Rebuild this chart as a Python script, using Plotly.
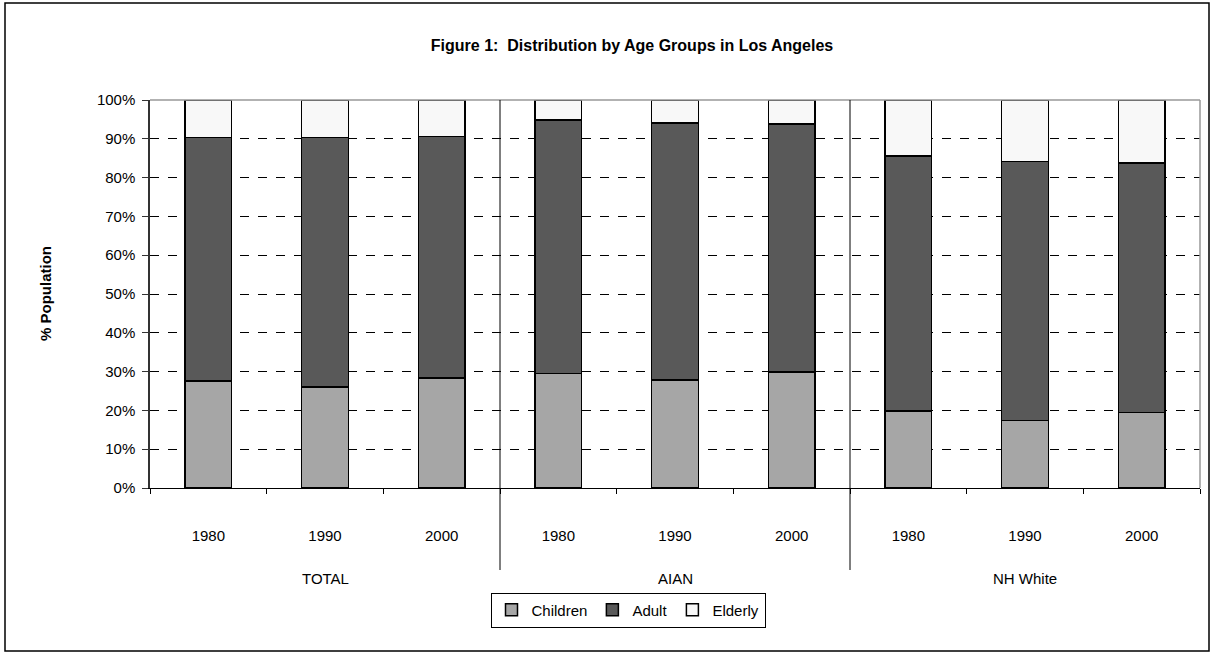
import plotly.graph_objects as go

group_names = ["TOTAL", "AIAN", "NH White"]
year_names = ["1980", "1990", "2000"]
groups = [g for g in group_names for _ in year_names]
years = year_names * 3
categories = [f"{g} {y}" for g, y in zip(groups, years)]
children = [27.6, 26.0, 28.4, 29.5, 27.9, 29.9, 19.8, 17.4, 19.4]
adult_top = [90.3, 90.3, 90.6, 94.8, 94.1, 93.8, 85.6, 84.1, 83.7]
adult = [round(a - c, 1) for a, c in zip(adult_top, children)]
elderly = [round(100 - a, 1) for a in adult_top]
y_ticks = [0, 10, 20, 30, 40, 50, 60, 70, 80, 90, 100]
y_labels = [f"{v}%" for v in y_ticks]

FONT = "Liberation Sans, Arial, sans-serif"
series = [("Children", children, "#a6a6a6"),
          ("Adult", adult, "#595959"),
          ("Elderly", elderly, "#f8f8f8")]

fig = go.Figure()
for name, vals, col in series:
    fig.add_trace(go.Bar(
        x=categories, y=vals, name=name,
        marker=dict(color=col, line=dict(color="#000000", width=1.5)),
    ))

L, R, T, B = 150, 14, 100, 168
W, H = 1214, 656
pw, ph = W - L - R, H - T - B

def px(xp):
    return (xp - L) / pw

def py(yp):
    return (H - B - yp) / ph

shapes = [
    dict(type="rect", xref="paper", yref="paper",
         x0=px(5), x1=px(1209), y0=py(651), y1=py(3),
         line=dict(color="#000000", width=1.5), layer="below"),
    dict(type="line", xref="paper", yref="paper", x0=0, x1=1, y0=1, y1=1,
         line=dict(color="#999999", width=1.5)),
    dict(type="line", xref="paper", yref="paper", x0=1, x1=1, y0=0, y1=1,
         line=dict(color="#999999", width=1.5)),
]
for d in [1 / 3, 2 / 3]:
    shapes.append(dict(type="line", xref="paper", yref="paper",
                       x0=d, x1=d, y0=py(570), y1=1,
                       line=dict(color="#000000", width=1)))

annotations = [dict(text="<b>% Population</b>", xref="paper", yref="paper",
                    x=px(45), y=0.5, xanchor="center", yanchor="middle",
                    textangle=-90, showarrow=False,
                    font=dict(size=15))]
for g in group_names:
    annotations.append(dict(text=g, xref="x", yref="paper",
                            x=f"{g} {year_names[1]}", y=py(578),
                            yanchor="middle", showarrow=False,
                            font=dict(size=15)))

fig.update_layout(
    barmode="stack",
    bargap=0.6,
    width=W, height=H,
    margin=dict(l=L, r=R, t=T, b=B),
    paper_bgcolor="white", plot_bgcolor="white",
    font=dict(family=FONT, size=13, color="#000000"),
    title=dict(text="<b>Figure 1:  Distribution by Age Groups in Los Angeles</b>",
               xref="container", x=632 / W, xanchor="center",
               yref="container", y=1 - 45 / H, yanchor="middle",
               font=dict(size=16)),
    legend=dict(orientation="h", x=px(628), xanchor="center",
                y=py(610), yanchor="middle",
                bordercolor="#000000", borderwidth=1,
                font=dict(size=15), traceorder="normal",
                itemwidth=30, tracegroupgap=0),
    shapes=shapes,
    annotations=annotations,
)
fig.update_xaxes(type="category", tickvals=categories, ticktext=years,
                 showline=True, linecolor="#000000", linewidth=1,
                 ticks="outside", tickson="boundaries", ticklen=5,
                 tickcolor="#000000",
                 tickfont=dict(size=15), ticklabelstandoff=34)
fig.update_yaxes(range=[0, 100], tickvals=y_ticks, ticktext=y_labels,
                 showline=True, linecolor="#333333", linewidth=1.5,
                 ticks="outside", ticklen=6, tickcolor="#333333",
                 showgrid=True, gridcolor="#000000", gridwidth=1, griddash="dash",
                 zeroline=False, tickfont=dict(size=15), ticklabelstandoff=4)

fig.write_html("out.html", config={"displayModeBar": False},
               post_script="document.body.style.margin='0';")
